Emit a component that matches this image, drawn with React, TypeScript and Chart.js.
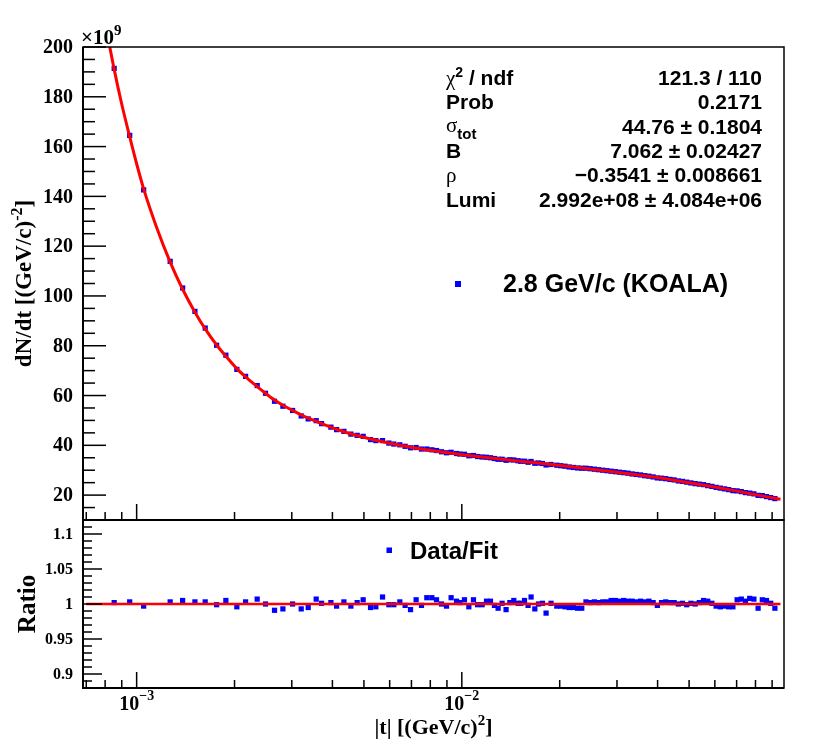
import { useEffect, useRef } from "react";
import { Chart, registerables } from "chart.js";

Chart.register(...registerables);

// |t| bin centres [(GeV/c)^2]
const tBins = [
  0.000853, 0.000952, 0.001051, 0.001268, 0.001385, 0.001511, 0.001625, 0.001762, 0.001881, 0.002033,
  0.002163, 0.002348, 0.002491, 0.002655, 0.002817, 0.003017, 0.003207, 0.00337, 0.003566, 0.003705,
  0.003957, 0.00412, 0.004339, 0.004559, 0.004766, 0.004973, 0.00524, 0.00544, 0.005704, 0.005965,
  0.00618, 0.006447, 0.006694, 0.006955, 0.007236, 0.007517, 0.007805, 0.008087, 0.00836, 0.008661,
  0.008974, 0.009271, 0.009632, 0.00986, 0.01019, 0.01051, 0.01086, 0.01118, 0.01155, 0.01191,
  0.01225, 0.0126, 0.01293, 0.0133, 0.01368, 0.01405, 0.01445, 0.01489, 0.01518, 0.01559,
  0.01599, 0.01633, 0.01677, 0.01721, 0.0177, 0.01816, 0.01881, 0.01959,
  0.02015, 0.02076, 0.02139, 0.02203, 0.0227, 0.02338, 0.02409, 0.02481, 0.02556, 0.02633,
  0.02713, 0.02795, 0.02879, 0.02966, 0.03055, 0.03148, 0.03243, 0.0334, 0.03441, 0.03545,
  0.03652, 0.03762, 0.03876, 0.03993, 0.04113, 0.04237, 0.04365, 0.04497, 0.04633, 0.04772,
  0.04916, 0.05065, 0.05218, 0.05375, 0.05537, 0.05704, 0.05876, 0.06054, 0.06236, 0.06425,
  0.06618, 0.06818, 0.07024, 0.07236, 0.07454, 0.07679, 0.07911, 0.0815, 0.08396, 0.08649,
  0.0891, 0.09179,
];

// dN/dt, in units of 1e9
const dndt = [
  191.4, 164.5, 142.6, 113.9, 103.2, 93.8, 87.1, 80.2, 76.2, 70.5,
  67.7, 64.0, 60.9, 57.7, 55.7, 54.0, 51.8, 50.6, 49.9, 48.7,
  47.3, 46.3, 45.6, 44.5, 44.0, 43.6, 42.3, 41.9, 41.9, 40.9,
  40.5, 40.2, 39.6, 39.0, 39.1, 38.5, 38.5, 38.2, 37.9, 37.4,
  37.0, 37.2, 36.7, 36.5, 36.4, 35.8, 35.9, 35.5, 35.3, 35.2,
  35.0, 34.7, 34.4, 34.4, 34.0, 34.2, 34.1, 33.8, 33.6, 33.6,
  33.2, 33.5, 32.8, 32.9, 32.7, 32.1, 32.3, 32.0,
  31.8, 31.6, 31.3, 31.1, 30.9, 30.8, 30.8, 30.6, 30.4, 30.2,
  30.0, 29.8, 29.6, 29.4, 29.2, 29.0, 28.8, 28.5, 28.3, 28.1,
  27.8, 27.6, 27.3, 26.9, 26.8, 26.6, 26.3, 26.1, 25.7, 25.5,
  25.2, 24.9, 24.6, 24.4, 24.2, 23.8, 23.5, 23.1, 22.8, 22.5,
  22.2, 21.8, 21.7, 21.4, 21.0, 20.8, 20.5, 19.9, 19.8, 19.4,
  19.0, 18.6,
];

// data / fit
const ratio = [
  1.002, 1.003, 0.997, 1.003, 1.005, 1.003, 1.003, 0.999, 1.005, 0.996,
  1.003, 1.007, 1.0, 0.991, 0.993, 1.0, 0.993, 0.995, 1.007, 1.001,
  1.002, 0.997, 1.003, 0.997, 1.002, 1.006, 0.995, 0.996, 1.01, 0.999,
  0.999, 1.003, 0.998, 0.992, 1.006, 0.998, 1.009, 1.009, 1.006, 1.0,
  0.997, 1.009, 1.004, 1.002, 1.006, 0.996, 1.006, 0.999, 0.999, 1.004,
  1.004, 0.998, 0.994, 1.001, 0.992, 1.002, 1.005, 1.001, 1.001, 1.005,
  0.998, 1.01, 0.993, 1.0, 1.001, 0.987, 1.001, 0.997,
  0.997, 0.996, 0.995, 0.995, 0.994, 0.994, 1.003, 1.002, 1.003, 1.002,
  1.003, 1.003, 1.005, 1.005, 1.004, 1.005, 1.004, 1.004, 1.003, 1.004,
  1.003, 1.004, 1.002, 0.998, 1.002, 1.003, 1.002, 1.002, 1.0, 1.001,
  0.999, 1.001, 1.0, 1.002, 1.005, 1.004, 1.001, 0.997, 0.996, 0.997,
  0.996, 0.996, 1.006, 1.007, 1.004, 1.008, 1.007, 0.994, 1.006, 1.005,
  1.001, 0.994,
];

// fit curve
const tFit = [
  0.0008, 0.000853, 0.0009, 0.000952, 0.001, 0.001051, 0.00115, 0.001268, 0.001385, 0.001511,
  0.001625, 0.001762, 0.001881, 0.002033, 0.002163, 0.002348, 0.002491, 0.002655, 0.002817, 0.003017,
  0.003207, 0.00337, 0.003566, 0.003705, 0.004339, 0.00524, 0.006447, 0.008087, 0.01019, 0.0133,
  0.01721, 0.02203, 0.02795, 0.03545, 0.04497, 0.05704, 0.07024, 0.0815, 0.09179, 0.0955,
];
const dndtFit = [
  209.8, 191.0, 177.0, 164.0, 153.1, 143.0, 127.8, 113.6, 102.7, 93.5,
  86.8, 80.3, 75.8, 70.8, 67.5, 63.6, 60.9, 58.2, 56.1, 54.0,
  52.2, 50.9, 49.6, 48.7, 45.45, 42.55, 40.05, 37.9, 36.15, 34.4,
  32.85, 31.3, 29.7, 27.95, 26.0, 23.75, 21.6, 20.0, 18.7, 18.3,
];
const tRatioFit = [0.0007, 0.0955];
const ratioFit = [1, 1];

// axes
const X_MIN = 0.000684;
const X_MAX = 0.0979;
const xMajorTicks = [0.001, 0.01];
const xMajorExp = ["\u22123", "\u22122"];
const xMinorTicks = [
  0.0007, 0.0008, 0.0009, 0.002, 0.003, 0.004, 0.005, 0.006, 0.007, 0.008, 0.009,
  0.02, 0.03, 0.04, 0.05, 0.06, 0.07, 0.08, 0.09,
];
const yTopLabels = [20, 40, 60, 80, 100, 120, 140, 160, 180, 200];
const yRatioTicks = [0.9, 0.95, 1, 1.05, 1.1];
const yRatioLabels = ["0.9", "0.95", "1", "1.05", "1.1"];

// fit results box
const statValues = [
  "121.3 / 110",
  "0.2171",
  "44.76 \u00b1 0.1804",
  "7.062 \u00b1 0.02427",
  "\u22120.3541 \u00b1 0.008661",
  "2.992e+08 \u00b1 4.084e+06",
];
const legendTop = "2.8 GeV/c (KOALA)";
const legendBottom = "Data/Fit";

const W = 830;
const H = 744;
const SERIF = '"Liberation Serif", "Times New Roman", serif';
const SANS = '"Liberation Sans", Arial, sans-serif';
const BLUE = "#0000ff";
const RED = "#ff0000";

type Part = { s: string; font: string; dy?: number };

function drawRich(ctx: CanvasRenderingContext2D, parts: Part[], x: number, y: number, align: string) {
  let w = 0;
  for (const p of parts) {
    ctx.font = p.font;
    w += ctx.measureText(p.s).width;
  }
  let cx = align === "left" ? x : align === "center" ? x - w / 2 : x - w;
  ctx.textAlign = "left";
  ctx.textBaseline = "alphabetic";
  for (const p of parts) {
    ctx.font = p.font;
    ctx.fillText(p.s, cx, y + (p.dy || 0));
    cx += ctx.measureText(p.s).width;
  }
}

function line(ctx: CanvasRenderingContext2D, x1: number, y1: number, x2: number, y2: number) {
  ctx.beginPath();
  ctx.moveTo(x1, y1);
  ctx.lineTo(x2, y2);
  ctx.stroke();
}

function drawFrame(ctx: CanvasRenderingContext2D, a: any) {
  ctx.strokeStyle = "#000";
  ctx.lineWidth = 1.5;
  ctx.strokeRect(a.left, a.top, a.right - a.left, a.bottom - a.top);
  ctx.lineWidth = 2;
  ctx.beginPath();
  ctx.moveTo(a.left, a.top);
  ctx.lineTo(a.left, a.bottom);
  ctx.lineTo(a.right, a.bottom);
  ctx.stroke();
}

function drawXTicks(ctx: CanvasRenderingContext2D, chart: any) {
  const a = chart.chartArea;
  const xs = chart.scales.x;
  ctx.lineWidth = 1.5;
  xMinorTicks.forEach((t) => {
    const px = xs.getPixelForValue(t);
    line(ctx, px, a.bottom, px, a.bottom - 8);
  });
  xMajorTicks.forEach((t) => {
    const px = xs.getPixelForValue(t);
    line(ctx, px, a.bottom, px, a.bottom - 16);
  });
}

const topPad = {
  id: "topPad",
  afterDraw(chart: any) {
    const ctx: CanvasRenderingContext2D = chart.ctx;
    const a = chart.chartArea;
    const ys = chart.scales.y;
    ctx.save();
    drawFrame(ctx, a);
    ctx.lineWidth = 1.5;
    for (let v = 10; v <= 200; v += 5) {
      const py = ys.getPixelForValue(v);
      line(ctx, a.left, py, a.left + (v % 20 === 0 ? 23 : 12), py);
    }
    drawXTicks(ctx, chart);

    ctx.fillStyle = "#000";
    ctx.font = `bold 20px ${SERIF}`;
    ctx.textAlign = "right";
    ctx.textBaseline = "middle";
    yTopLabels.forEach((v) => ctx.fillText(String(v), a.left - 10, ys.getPixelForValue(v) + 1));

    drawRich(ctx, [
      { s: "\u00d710", font: `bold 21px ${SERIF}` },
      { s: "9", font: `bold 15px ${SERIF}`, dy: -9 },
    ], a.left - 2, a.top - 3.5, "left");

    ctx.save();
    ctx.translate(31, (a.top + a.bottom) / 2);
    ctx.rotate(-Math.PI / 2);
    drawRich(ctx, [
      { s: "dN/dt [(GeV/c)", font: `bold 23px ${SERIF}` },
      { s: "-2", font: `bold 16px ${SERIF}`, dy: -9 },
      { s: "]", font: `bold 23px ${SERIF}` },
    ], 0, 0, "center");
    ctx.restore();

    // fit box
    const sb = `bold 21px ${SANS}`;
    const gk = `21px ${SERIF}`;
    const left = 446;
    const right = 762;
    const base = [85, 109.3, 133.7, 158, 182.3, 206.7];
    const names: Part[][] = [
      [{ s: "\u03c7", font: gk }, { s: "2", font: `bold 14px ${SANS}`, dy: -8 }, { s: " / ndf", font: sb }],
      [{ s: "Prob", font: sb }],
      [{ s: "\u03c3", font: gk, dy: -2 }, { s: "tot", font: `bold 15px ${SANS}`, dy: 5 }],
      [{ s: "B", font: sb }],
      [{ s: "\u03c1", font: gk }],
      [{ s: "Lumi", font: sb }],
    ];
    names.forEach((p, i) => drawRich(ctx, p, left, base[i], "left"));
    statValues.forEach((s, i) => drawRich(ctx, [{ s, font: sb }], right, base[i], "right"));

    // legend
    ctx.fillStyle = BLUE;
    ctx.fillRect(455, 281, 6, 6);
    ctx.fillStyle = "#000";
    drawRich(ctx, [{ s: legendTop, font: `bold 25px ${SANS}` }], 503, 292, "left");
    ctx.restore();
  },
};

const bottomPad = {
  id: "bottomPad",
  afterDraw(chart: any) {
    const ctx: CanvasRenderingContext2D = chart.ctx;
    const a = chart.chartArea;
    const xs = chart.scales.x;
    const ys = chart.scales.y;
    ctx.save();
    drawFrame(ctx, a);
    ctx.lineWidth = 1.5;
    for (let i = 88; i <= 112; i++) {
      const py = ys.getPixelForValue(i / 100);
      line(ctx, a.left, py, a.left + (i % 5 === 0 ? 19 : 9), py);
    }
    drawXTicks(ctx, chart);

    ctx.fillStyle = "#000";
    ctx.font = `bold 16px ${SERIF}`;
    ctx.textAlign = "right";
    ctx.textBaseline = "middle";
    yRatioTicks.forEach((v, i) => ctx.fillText(yRatioLabels[i], a.left - 10, ys.getPixelForValue(v) + 1));

    xMajorTicks.forEach((t, i) => {
      drawRich(ctx, [
        { s: "10", font: `bold 20px ${SERIF}` },
        { s: xMajorExp[i], font: `bold 14px ${SERIF}`, dy: -10 },
      ], xs.getPixelForValue(t), 710, "center");
    });

    drawRich(ctx, [
      { s: "|t| [(GeV/c)", font: `bold 22px ${SERIF}` },
      { s: "2", font: `bold 15px ${SERIF}`, dy: -9 },
      { s: "]", font: `bold 22px ${SERIF}` },
    ], (a.left + a.right) / 2, 734, "center");

    ctx.save();
    ctx.translate(34.5, (a.top + a.bottom) / 2);
    ctx.rotate(-Math.PI / 2);
    drawRich(ctx, [{ s: "Ratio", font: `bold 25px ${SERIF}` }], 0, 0, "center");
    ctx.restore();

    ctx.fillStyle = BLUE;
    ctx.fillRect(386.5, 547.5, 5.5, 5.5);
    ctx.fillStyle = "#000";
    drawRich(ctx, [{ s: legendBottom, font: `bold 24px ${SANS}` }], 410, 558.5, "left");
    ctx.restore();
  },
};

const pointStyle = {
  showLine: false,
  pointStyle: "rect",
  pointRadius: 3.7,
  pointBackgroundColor: BLUE,
  pointBorderColor: BLUE,
  pointBorderWidth: 0,
};

export default function App() {
  const topRef = useRef<HTMLCanvasElement | null>(null);
  const botRef = useRef<HTMLCanvasElement | null>(null);

  useEffect(() => {
    if (!topRef.current || !botRef.current) return;
    const common = {
      responsive: false,
      animation: false,
      events: [],
      plugins: { legend: { display: false }, tooltip: { enabled: false } },
    };

    const top = new Chart(topRef.current, {
      type: "scatter",
      data: {
        datasets: [
          {
            label: "fit",
            data: tFit.map((t, i) => ({ x: t, y: dndtFit[i] })),
            showLine: true,
            borderColor: RED,
            borderWidth: 3,
            pointRadius: 0,
            cubicInterpolationMode: "monotone",
          },
          {
            label: legendTop,
            data: tBins.map((t, i) => ({ x: t, y: dndt[i] })),
            ...pointStyle,
          },
        ],
      },
      options: {
        ...common,
        layout: { padding: { left: 83, top: 47, right: W - 784, bottom: H - 520 } },
        scales: {
          x: { type: "logarithmic", min: X_MIN, max: X_MAX, display: false },
          y: { type: "linear", min: 10, max: 200, display: false },
        },
      },
      plugins: [topPad],
    } as any);

    const bot = new Chart(botRef.current, {
      type: "scatter",
      data: {
        datasets: [
          {
            label: "fit",
            data: tRatioFit.map((t, i) => ({ x: t, y: ratioFit[i] })),
            showLine: true,
            borderColor: RED,
            borderWidth: 2.5,
            pointRadius: 0,
          },
          {
            label: legendBottom,
            data: tBins.map((t, i) => ({ x: t, y: ratio[i] })),
            ...pointStyle,
          },
        ],
      },
      options: {
        ...common,
        layout: { padding: { left: 83, top: 520, right: W - 784, bottom: H - 688 } },
        scales: {
          x: { type: "logarithmic", min: X_MIN, max: X_MAX, display: false },
          y: { type: "linear", min: 0.88, max: 1.12, display: false },
        },
      },
      plugins: [bottomPad],
    } as any);

    return () => {
      top.destroy();
      bot.destroy();
    };
  }, []);

  return (
    <div style={{ position: "absolute", left: 0, top: 0, width: W, height: H, background: "#fff" }}>
      <canvas ref={topRef} width={W} height={H} style={{ position: "absolute", left: 0, top: 0 }} />
      <canvas ref={botRef} width={W} height={H} style={{ position: "absolute", left: 0, top: 0 }} />
    </div>
  );
}
